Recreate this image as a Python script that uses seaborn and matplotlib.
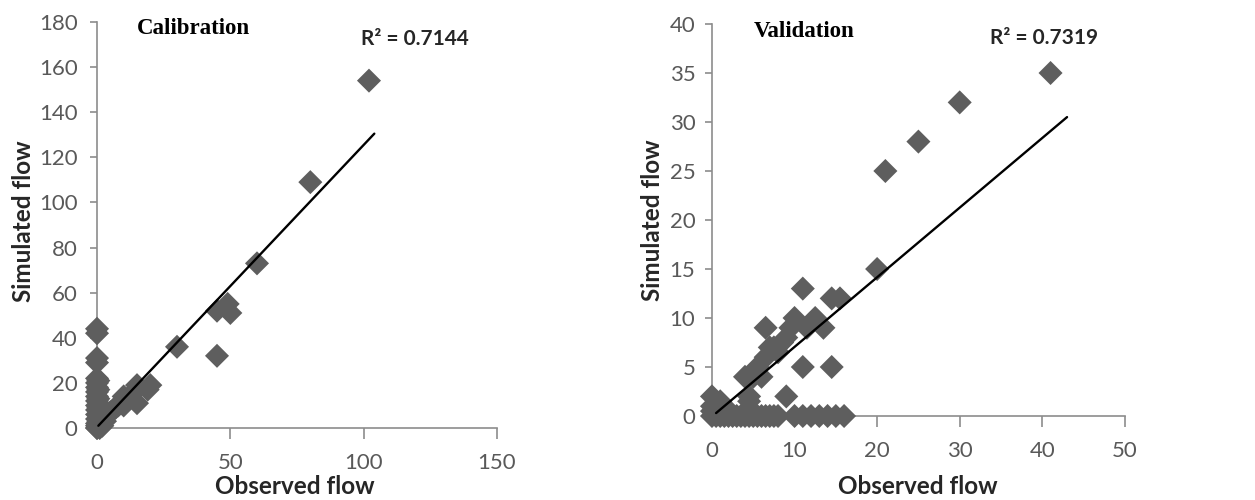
import matplotlib
matplotlib.use('Agg')
import matplotlib.pyplot as plt
import pandas as pd
import seaborn as sns

# Calibration data (observed, simulated)
cal_obs = [0, 0, 0, 0, 0, 0, 0, 0, 0, 0, 0, 0, 0, 0, 0, 0, 0, 0,
           0.5, 0.5, 0.5, 0.5, 0.5, 1, 1, 1, 1.5, 2, 2, 3, 3, 4, 5, 6, 7, 8, 9, 10, 10, 11, 12, 13, 14, 15, 15,
           19, 20, 30, 45, 45, 49, 50, 60, 80, 102]
cal_sim = [44, 42, 31, 29, 22, 20, 18, 16, 14, 12, 10, 8, 6, 4, 2, 1, 0, 0,
           21, 17, 13, 9, 3, 10, 5, 0, 7, 4, 1, 3, 6, 6, 7, 8, 9, 10, 11, 14, 10, 12, 13, 15, 16, 19, 11,
           17, 19, 36, 32, 52, 55, 51, 73, 109, 154]
cal_trend_x = [0.5, 104]
cal_trend_y = [1, 130.5]
cal_r2 = 'R² = 0.7144'

# Validation data (observed, simulated)
val_obs = [0, 0, 0, 0.5, 1, 1.5, 2, 2.5, 3, 3.5, 4, 4.5, 5, 5.5, 6, 6.5, 7, 7.5, 8, 10, 11, 12, 13, 14, 15, 16,
           0, 1, 1.5, 4.5, 4.5, 4, 5, 5.5, 6, 6.5, 6.5, 7, 7.5, 8, 8.5, 9, 9.5, 10, 9, 11, 11, 11.5, 12, 12.5,
           13.5, 14.5, 14.5, 15.5, 20, 21, 25, 30, 41]
val_sim = [0, 1, 2, 0, 0, 0, 0, 0, 0, 0, 0, 0, 0, 0, 0, 0, 0, 0, 0, 0, 0, 0, 0, 0, 0, 0,
           0.5, 1.5, 1, 2, 1.5, 4, 4, 5, 4, 6, 9, 7, 7, 6.5, 7.5, 8, 9, 10, 2, 5, 13, 9, 9.5, 10,
           9, 12, 5, 12, 15, 25, 28, 32, 35]
val_trend_x = [0.5, 43]
val_trend_y = [0.3, 30.5]
val_r2 = 'R² = 0.7319'

sns.set_theme(style='white')
plt.rcParams['font.family'] = ['Lato', 'DejaVu Sans']

marker_color = '#5e5e5e'
tick_color = '#595959'
spine_color = '#8c8c8c'

fig = plt.figure(figsize=(12.55, 5), dpi=100)
ax1 = fig.add_axes([0.0773, 0.144, 0.3187, 0.812])
ax2 = fig.add_axes([0.5673, 0.168, 0.329, 0.784])

# axes, data, title, r2 text, limits, ticks, text/label positions (axes fraction), y tick pad
panels = [
    (ax1, cal_obs, cal_sim, cal_trend_x, cal_trend_y, 'Calibration', cal_r2,
     (0, 150), [0, 50, 100, 150], (0, 180), range(0, 181, 20),
     (0.10, 0.985), (0.66, 0.958), (0.495, -0.145), (-0.185, 0.51), 9),
    (ax2, val_obs, val_sim, val_trend_x, val_trend_y, 'Validation', val_r2,
     (0, 50), range(0, 51, 10), (0, 40), range(0, 41, 5),
     (0.10, 0.98), (0.673, 0.964), (0.499, -0.181), (-0.143, 0.50), 7),
]

for (ax, obs, sim, tx, ty, title, r2, xlim, xticks, ylim, yticks,
     tpos, rpos, xlpos, ylpos, ypad) in panels:
    df = pd.DataFrame({'Observed flow': obs, 'Simulated flow': sim})
    sns.scatterplot(data=df, x='Observed flow', y='Simulated flow', ax=ax, marker='D',
                    s=150, color=marker_color, edgecolor='none', clip_on=False, zorder=3)
    ax.plot(tx, ty, color='black', lw=1.7, zorder=4)
    ax.set_xlim(*xlim)
    ax.set_ylim(*ylim)
    ax.set_xticks(list(xticks))
    ax.set_yticks(list(yticks))
    for side in ['top', 'right']:
        ax.spines[side].set_visible(False)
    for side in ['left', 'bottom']:
        ax.spines[side].set_color(spine_color)
        ax.spines[side].set_linewidth(1.2)
    ax.tick_params(axis='x', bottom=True, direction='out', length=8, width=1.2, color=spine_color,
                   labelsize=16, labelcolor=tick_color, pad=10)
    ax.tick_params(axis='y', left=True, direction='out', length=5, width=1.2, color=spine_color,
                   labelsize=16, labelcolor=tick_color, pad=ypad)
    ax.set_xlabel('Observed flow', fontsize=17.5, fontweight='bold', color='#262626', va='center')
    ax.set_ylabel('Simulated flow', fontsize=17.5, fontweight='bold', color='#262626', va='center')
    ax.xaxis.set_label_coords(*xlpos)
    ax.yaxis.set_label_coords(*ylpos)
    ax.text(tpos[0], tpos[1], title, transform=ax.transAxes, family='Liberation Serif',
            fontsize=16.5, fontweight='bold', color='black', va='center', ha='left')
    ax.text(rpos[0], rpos[1], r2, transform=ax.transAxes, fontsize=15, fontweight='bold',
            color='#262626', va='center', ha='left')

fig.savefig('out.png', dpi=100)
